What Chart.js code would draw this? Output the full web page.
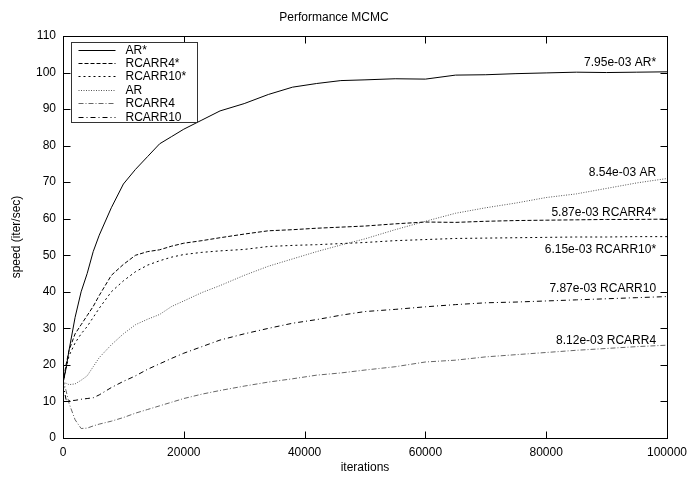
<!DOCTYPE html>
<html>
<head>
<meta charset="utf-8">
<script src="https://cdn.jsdelivr.net/npm/chart.js@4.4.0/dist/chart.umd.min.js"></script>
<style>html,body{margin:0;padding:0;background:#fff}</style>
</head>
<body>
<canvas id="chart" width="694" height="478"></canvas>
<script>
const iterations = [0, 500, 1000, 2000, 3000, 4000, 5000, 6000, 8000, 10000, 12000, 14000, 16000, 18000, 20000,
  23000, 26000, 30000, 34000, 38000, 42000, 46000, 50000, 55000, 60000, 65000, 70000, 75000, 80000, 85000, 90000, 95000, 100000];

const arStar = [15, 19, 24, 33, 40, 45, 51, 55.5, 63, 69.5, 73.5, 77, 80.5, 82.5, 84.5,
  87, 89.5, 91.5, 94, 96, 97, 97.8, 98, 98.3, 98.2, 99.3, 99.4, 99.7, 99.9, 100.1, 100, 100.1, 100.2];
const rcarr4Star = [15, 20, 24, 28.5, 31, 33.5, 36, 39, 44.5, 47.5, 50, 51, 51.5, 52.5, 53.3,
  54, 54.8, 55.8, 56.7, 57, 57.4, 57.7, 58, 58.6, 59.1, 59, 59.3, 59.5, 59.6, 59.7, 59.8, 59.8, 59.9];
const rcarr10Star = [15, 19, 22.5, 26, 28.5, 30.5, 33, 35.5, 40, 43, 45.5, 47.3, 48.5, 49.5, 50.2,
  50.8, 51.2, 51.6, 52.4, 52.7, 52.9, 53.2, 53.5, 54, 54.3, 54.6, 54.7, 54.8, 54.9, 55, 55, 55.1, 55.1];
const ar = [15, 15, 14.6, 14.8, 15.8, 17, 19.5, 22, 25.5, 28.5, 31, 32.5, 33.8, 36, 37.5,
  39.8, 41.7, 44.5, 47, 49, 51, 52.8, 54.5, 57, 59.3, 61.5, 63, 64.3, 65.8, 66.8, 68.3, 69.8, 71];
const rcarr4 = [16, 13, 9.5, 5, 2.6, 2.7, 3.3, 3.8, 4.6, 5.6, 6.8, 7.8, 8.8, 9.8, 10.8,
  12, 13, 14.2, 15.3, 16.2, 17.2, 17.8, 18.6, 19.5, 20.8, 21.3, 22.2, 22.8, 23.4, 24, 24.5, 25, 25.4];
const rcarr10 = [15, 10.5, 10.2, 10.3, 10.6, 10.8, 11, 11.8, 13.8, 15.5, 17, 18.8, 20.3, 21.8, 23.2,
  25, 26.8, 28.5, 30, 31.4, 32.4, 33.6, 34.6, 35.2, 35.9, 36.5, 37, 37.2, 37.5, 37.8, 38.1, 38.4, 38.7];

const seriesNames = ['AR*', 'RCARR4*', 'RCARR10*', 'AR', 'RCARR4', 'RCARR10'];

// end-of-run labels
const annoText = ['7.95e-03 AR*', '8.54e-03 AR', '5.87e-03 RCARR4*', '6.15e-03 RCARR10*', '7.87e-03 RCARR10', '8.12e-03 RCARR4'];
const annoY = [102.6, 72.5, 61.6, 51.4, 40.8, 26.5];
const annoX = 98200;

const xTicks = [0, 20000, 40000, 60000, 80000, 100000];

Chart.defaults.font.family = '"Liberation Sans", Arial, sans-serif';
Chart.defaults.font.size = 12;
Chart.defaults.color = '#000';

function pts(vals) {
  return vals.map((v, i) => ({x: iterations[i], y: v}));
}

const styles = [
  {color: '#000', dash: []},
  {color: '#000', dash: [4, 2]},
  {color: '#000', dash: [2, 3]},
  {color: '#555', dash: [1, 1.5]},
  {color: '#666', dash: [5, 2, 1, 2]},
  {color: '#000', dash: [5, 3, 1, 3]}
];
const allVals = [arStar, rcarr4Star, rcarr10Star, ar, rcarr4, rcarr10];

const datasets = allVals.map((vals, i) => ({
  label: seriesNames[i],
  data: pts(vals),
  borderColor: styles[i].color,
  borderDash: styles[i].dash,
  borderWidth: 1,
  pointRadius: 0,
  tension: 0,
  fill: false
}));

const frame = {
  id: 'frame',
  afterDraw(chart) {
    const ctx = chart.ctx;
    const a = chart.chartArea;
    const x = chart.scales.x, y = chart.scales.y;
    const L = Math.round(a.left) + 0.5, R = Math.round(a.right) + 0.5;
    const T = Math.round(a.top) + 0.5, B = Math.round(a.bottom) + 0.5;
    ctx.save();
    ctx.strokeStyle = '#000';
    ctx.lineWidth = 1;
    ctx.setLineDash([]);
    ctx.strokeRect(L, T, R - L, B - T);
    // inward ticks on all four sides
    ctx.beginPath();
    x.ticks.forEach(t => {
      const px = Math.round(x.getPixelForValue(t.value)) + 0.5;
      ctx.moveTo(px, B); ctx.lineTo(px, B - 7);
      ctx.moveTo(px, T); ctx.lineTo(px, T + 7);
    });
    y.ticks.forEach(t => {
      const py = Math.round(y.getPixelForValue(t.value)) + 0.5;
      ctx.moveTo(L, py); ctx.lineTo(L + 7, py);
      ctx.moveTo(R, py); ctx.lineTo(R - 7, py);
    });
    ctx.stroke();

    // labels at the end of the curves
    ctx.fillStyle = '#000';
    ctx.font = '12px "Liberation Sans", Arial, sans-serif';
    ctx.textAlign = 'right';
    ctx.textBaseline = 'middle';
    annoText.forEach((s, i) => {
      ctx.fillText(s, x.getPixelForValue(annoX), y.getPixelForValue(annoY[i]));
    });

    // legend box
    const bx = Math.round(a.left) + 8.5, by = Math.round(a.top) + 6.5;
    const bw = 126, bh = 80;
    ctx.fillStyle = '#fff';
    ctx.fillRect(bx, by, bw, bh);
    ctx.strokeStyle = '#333';
    ctx.strokeRect(bx, by, bw, bh);
    ctx.textAlign = 'left';
    chart.data.datasets.forEach((ds, i) => {
      const ly = Math.round(by + 7 + i * 13.4) + 0.5;
      ctx.strokeStyle = ds.borderColor;
      ctx.setLineDash(ds.borderDash);
      ctx.beginPath();
      ctx.moveTo(bx + 7, ly);
      ctx.lineTo(bx + 44, ly);
      ctx.stroke();
      ctx.fillStyle = '#000';
      ctx.fillText(ds.label, bx + 54, ly);
    });
    ctx.restore();
  }
};

new Chart(document.getElementById('chart').getContext('2d'), {
  type: 'line',
  data: {datasets: datasets},
  options: {
    responsive: false,
    animation: false,
    devicePixelRatio: 1,
    layout: {padding: {left: 0, right: 26, top: 0, bottom: 0}},
    plugins: {
      legend: {display: false},
      tooltip: {enabled: false},
      title: {
        display: true,
        text: 'Performance MCMC',
        color: '#000',
        font: {size: 12, weight: 'normal'},
        padding: {top: 10, bottom: 11.6}
      }
    },
    scales: {
      x: {
        type: 'linear',
        min: 0,
        max: 100000,
        afterBuildTicks: s => { s.ticks = xTicks.map(v => ({value: v})); },
        ticks: {padding: 7, maxRotation: 0, callback: v => String(v)},
        grid: {display: false, drawTicks: false},
        border: {display: false},
        title: {display: true, text: 'iterations', padding: {top: 0, bottom: 3}},
        afterFit: s => { s.height = 40; }
      },
      y: {
        min: 0,
        max: 110,
        ticks: {stepSize: 10, padding: 7, callback: v => String(v)},
        grid: {display: false, drawTicks: false},
        border: {display: false},
        title: {display: true, text: 'speed (iter/sec)', padding: {top: 9, bottom: 0}},
        afterFit: s => { s.width = 63; }
      }
    }
  },
  plugins: [frame]
});
</script>
</body>
</html>
